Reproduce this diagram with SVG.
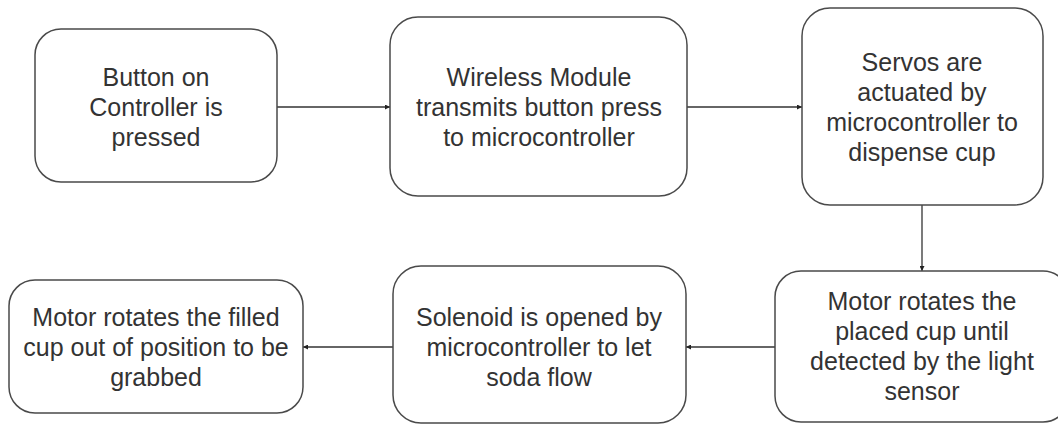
<svg xmlns="http://www.w3.org/2000/svg" width="1058" height="424" viewBox="0 0 1058 424">
  <style>
    .box { fill: #ffffff; stroke: #4a4a4a; stroke-width: 1.5; }
    .lbl { font-family: "Liberation Sans", Arial, sans-serif; font-size: 25px; fill: #333333; text-anchor: middle; }
    .conn { stroke: #333333; stroke-width: 1.3; fill: none; marker-end: url(#arrow); }
  </style>
  <defs>
    <marker id="arrow" viewBox="0 0 6 6" refX="6" refY="3" markerWidth="5" markerHeight="5" markerUnits="userSpaceOnUse" orient="auto">
      <path d="M0,0 L6,3 L0,6 Z" fill="#222222"/>
    </marker>
  </defs>
  <rect width="1058" height="424" fill="#ffffff"/>

  <g id="connectors">
    <line class="conn" x1="277" y1="107" x2="390" y2="107"/>
    <line class="conn" x1="687" y1="107" x2="802" y2="107"/>
    <line class="conn" x1="922" y1="205" x2="922" y2="271"/>
    <line class="conn" x1="775" y1="347" x2="686" y2="347"/>
    <line class="conn" x1="393" y1="347" x2="303" y2="347"/>
  </g>

  <g id="node1">
    <rect class="box" x="35" y="29" width="242" height="153" rx="26" ry="26"/>
    <text class="lbl" x="156" y="86">Button on</text>
    <text class="lbl" x="156" y="116">Controller is</text>
    <text class="lbl" x="156" y="146">pressed</text>
  </g>

  <g id="node2">
    <rect class="box" x="390" y="17" width="297" height="179" rx="28" ry="28"/>
    <text class="lbl" x="539" y="86">Wireless Module</text>
    <text class="lbl" x="539" y="116">transmits button press</text>
    <text class="lbl" x="539" y="146">to microcontroller</text>
  </g>

  <g id="node3">
    <rect class="box" x="802" y="8" width="241" height="197" rx="28" ry="28"/>
    <text class="lbl" x="922" y="71">Servos are</text>
    <text class="lbl" x="922" y="101">actuated by</text>
    <text class="lbl" x="922" y="131">microcontroller to</text>
    <text class="lbl" x="922" y="161">dispense cup</text>
  </g>

  <g id="node4">
    <rect class="box" x="775" y="271" width="294" height="151" rx="26" ry="26"/>
    <text class="lbl" x="922" y="310">Motor rotates the</text>
    <text class="lbl" x="922" y="340">placed cup until</text>
    <text class="lbl" x="922" y="370">detected by the light</text>
    <text class="lbl" x="922" y="400">sensor</text>
  </g>

  <g id="node5">
    <rect class="box" x="393" y="266" width="293" height="157" rx="28" ry="28"/>
    <text class="lbl" x="539" y="326">Solenoid is opened by</text>
    <text class="lbl" x="539" y="356">microcontroller to let</text>
    <text class="lbl" x="539" y="386">soda flow</text>
  </g>

  <g id="node6">
    <rect class="box" x="9" y="280" width="294" height="133" rx="26" ry="26"/>
    <text class="lbl" x="156" y="326">Motor rotates the filled</text>
    <text class="lbl" x="156" y="356">cup out of position to be</text>
    <text class="lbl" x="156" y="386">grabbed</text>
  </g>
</svg>
